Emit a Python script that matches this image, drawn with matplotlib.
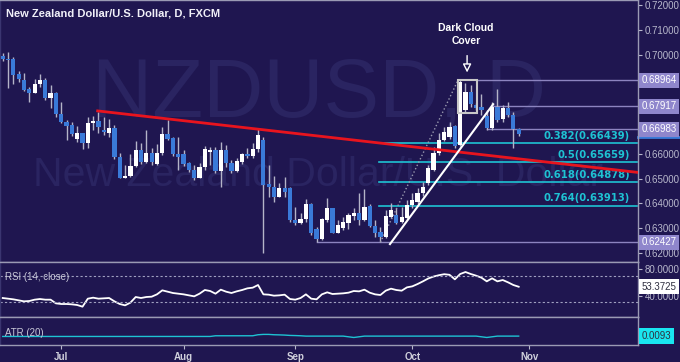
import numpy as np
import matplotlib.pyplot as plt
from matplotlib.patches import Rectangle
from matplotlib.transforms import blended_transform_factory

# Daily NZD/USD candles, mid-June to Oct 29 (weekdays only)
opens = [0.6996, 0.6982, 0.6981, 0.6921, 0.6898, 0.6860, 0.6844, 0.6880, 0.6898, 0.6826,
         0.6847, 0.6761, 0.6730, 0.6716, 0.6658, 0.6683, 0.6642, 0.6726, 0.6734, 0.6696,
         0.6685, 0.6706, 0.6589, 0.6504, 0.6511, 0.6552, 0.6615, 0.6568, 0.6602, 0.6559,
         0.6602, 0.6680, 0.6663, 0.6599, 0.6599, 0.6562, 0.6535, 0.6504, 0.6546, 0.6609,
         0.6615, 0.6531, 0.6615, 0.6564, 0.6532, 0.6568, 0.6599, 0.6593, 0.6620, 0.6656,
         0.6477, 0.6468, 0.6427, 0.6461, 0.6461, 0.6333, 0.6322, 0.6336, 0.6396, 0.6296,
         0.6255, 0.6333, 0.6380, 0.6282, 0.6300, 0.6322, 0.6349, 0.6363, 0.6333, 0.6391,
         0.6309, 0.6286, 0.6266, 0.6347, 0.6353, 0.6325, 0.6340, 0.6392, 0.6405, 0.6443,
         0.6481, 0.6535, 0.6602, 0.6656, 0.6669, 0.6712, 0.6635, 0.6777, 0.6850, 0.6798,
         0.6790, 0.6752, 0.6703, 0.6790, 0.6739, 0.6783, 0.6756, 0.6699]
highs = [0.7005, 0.7009, 0.6992, 0.6934, 0.6927, 0.6871, 0.6900, 0.6921, 0.6905, 0.6878,
         0.6851, 0.6808, 0.6736, 0.6730, 0.6712, 0.6685, 0.6747, 0.6753, 0.6770, 0.6750,
         0.6739, 0.6716, 0.6602, 0.6555, 0.6599, 0.6653, 0.6642, 0.6696, 0.6622, 0.6640,
         0.6707, 0.6736, 0.6669, 0.6669, 0.6615, 0.6568, 0.6555, 0.6562, 0.6632, 0.6626,
         0.6629, 0.6649, 0.6636, 0.6575, 0.6582, 0.6605, 0.6622, 0.6645, 0.6703, 0.6669,
         0.6555, 0.6511, 0.6484, 0.6505, 0.6465, 0.6387, 0.6363, 0.6417, 0.6400, 0.6306,
         0.6340, 0.6423, 0.6383, 0.6333, 0.6347, 0.6363, 0.6380, 0.6443, 0.6457, 0.6396,
         0.6333, 0.6306, 0.6374, 0.6400, 0.6380, 0.6387, 0.6413, 0.6440, 0.6461, 0.6485,
         0.6556, 0.6628, 0.6682, 0.6710, 0.6730, 0.6718, 0.6896, 0.6884, 0.6877, 0.6805,
         0.6840, 0.6778, 0.6810, 0.6860, 0.6795, 0.6810, 0.6770, 0.6705]
lows = [0.6974, 0.6867, 0.6880, 0.6891, 0.6855, 0.6810, 0.6844, 0.6871, 0.6817, 0.6783,
        0.6747, 0.6725, 0.6656, 0.6672, 0.6649, 0.6618, 0.6622, 0.6696, 0.6683, 0.6676,
        0.6669, 0.6581, 0.6501, 0.6502, 0.6508, 0.6548, 0.6559, 0.6564, 0.6555, 0.6555,
        0.6595, 0.6656, 0.6591, 0.6535, 0.6551, 0.6528, 0.6495, 0.6501, 0.6535, 0.6555,
        0.6524, 0.6468, 0.6548, 0.6524, 0.6528, 0.6559, 0.6582, 0.6582, 0.6609, 0.6199,
        0.6427, 0.6407, 0.6425, 0.6427, 0.6327, 0.6313, 0.6317, 0.6327, 0.6273, 0.6246,
        0.6253, 0.6327, 0.6279, 0.6279, 0.6293, 0.6296, 0.6333, 0.6313, 0.6329, 0.6304,
        0.6266, 0.6243, 0.6262, 0.6340, 0.6317, 0.6320, 0.6336, 0.6380, 0.6398, 0.6430,
        0.6475, 0.6530, 0.6595, 0.6650, 0.6660, 0.6625, 0.6630, 0.6770, 0.6790, 0.6778,
        0.6755, 0.6696, 0.6698, 0.6730, 0.6730, 0.6750, 0.6622, 0.6672]
closes = [0.6982, 0.6978, 0.6918, 0.6902, 0.6857, 0.6844, 0.6882, 0.6898, 0.6826, 0.6847,
          0.6761, 0.6728, 0.6714, 0.6680, 0.6683, 0.6642, 0.6726, 0.6734, 0.6710, 0.6687,
          0.6706, 0.6586, 0.6504, 0.6511, 0.6552, 0.6615, 0.6568, 0.6602, 0.6568, 0.6602,
          0.6680, 0.6660, 0.6598, 0.6586, 0.6559, 0.6535, 0.6504, 0.6548, 0.6618, 0.6615,
          0.6531, 0.6615, 0.6564, 0.6532, 0.6572, 0.6599, 0.6593, 0.6620, 0.6676, 0.6474,
          0.6468, 0.6427, 0.6461, 0.6447, 0.6333, 0.6322, 0.6336, 0.6396, 0.6279, 0.6255,
          0.6336, 0.6380, 0.6282, 0.6313, 0.6327, 0.6353, 0.6363, 0.6333, 0.6387, 0.6309,
          0.6282, 0.6266, 0.6349, 0.6374, 0.6322, 0.6345, 0.6394, 0.6412, 0.6440, 0.6467,
          0.6541, 0.6602, 0.6656, 0.6689, 0.6709, 0.6633, 0.6890, 0.6850, 0.6801, 0.6783,
          0.6775, 0.6703, 0.6790, 0.6736, 0.6783, 0.6756, 0.6699, 0.6678]

rsi = [36.5, 35.5, 34.5, 33, 31.5, 32, 34, 35, 34, 34,
       28.5, 27.5, 27.5, 27, 26, 23.5, 35.5, 37, 35.5, 36,
       36.5, 31.5, 27.5, 25.5, 29.5, 38, 36.5, 38, 38.5, 42,
       48, 46, 44, 43, 42, 40.5, 39, 43, 48.5, 47,
       43, 49, 46, 44, 46.5, 48.5, 51, 52, 56, 42,
       41.5, 40, 40.5, 41.5, 35, 34, 36.5, 42, 35.5, 34.5,
       42, 45, 42.5, 43, 43.5, 44.5, 47, 46.5, 49, 44.5,
       42, 41, 47.5, 50.5, 48.5, 47.5, 52.5, 54, 57.5, 61.5,
       65.8, 68.7, 70.7, 72.2, 71.3, 64.5, 72.5, 75.5, 72.5, 70,
       67, 61.5, 66, 61.5, 63.5, 60, 56, 53.4]

atr = ([0.00925] * 40 + [0.00935] * 8
       + [0.0095, 0.00955, 0.00955, 0.0095, 0.00948, 0.00945, 0.0094, 0.00938, 0.00935]
       + [0.0093] * 8 + [0.0092, 0.0091, 0.0092] + [0.0093] * 22
       + [0.0092, 0.0091, 0.0092] + [0.0093] * 5)

month_pos = [11, 34, 55, 77, 99]
month_names = ['Jul', 'Aug', 'Sep', 'Oct', 'Nov']
price_ticks = [0.62, 0.63, 0.64, 0.65, 0.66, 0.70, 0.71, 0.72]
levels = [0.68964, 0.67917, 0.66983, 0.62427]
level_start = [89.2, 92.2, 91, 59]
fib_levels = [0.66439, 0.65659, 0.64878, 0.63913]
fib_names = ['0.382(0.66439)', '0.5(0.65659)', '0.618(0.64878)', '0.764(0.63913)']

BG = '#1f1650'
BLUE = '#3a7ad8'
WICK = '#b4b4c8'
CYAN = '#1ec3d3'
GRID = '#8c84c0'
AXC = '#b8b8cc'

fig = plt.figure(figsize=(6.8, 3.62), dpi=100)
fig.patch.set_facecolor(BG)
ax = fig.add_axes([0, 0.2762, 0.938, 0.7238])
ax_rsi = fig.add_axes([0, 0.1243, 0.938, 0.1519], sharex=ax)
ax_atr = fig.add_axes([0, 0.0470, 0.938, 0.0773], sharex=ax)

for a in (ax, ax_rsi, ax_atr):
    a.set_facecolor(BG)
    for s in a.spines.values():
        s.set_color('#9a9ab4')
        s.set_linewidth(1)
    a.spines['left'].set_color('#3a3570')
    a.yaxis.tick_right()
    a.tick_params(axis='y', colors=AXC, labelsize=7, length=3, pad=2)
    a.tick_params(axis='x', colors=AXC, length=3)

# Watermark
ax.text(0.50, 0.64, 'NZDUSD, D', transform=ax.transAxes, ha='center', va='center',
        fontsize=60, color='#2a2461', family='Liberation Sans', zorder=0)
ax.text(0.498, 0.332, 'New Zealand Dollar/U.S. Dollar', transform=ax.transAxes,
        ha='center', va='center', fontsize=29.5, color='#2a2461',
        family='Liberation Sans', zorder=0)

# Candles
o, h, l, c = map(np.array, (opens, highs, lows, closes))
idx = np.arange(len(o))
up = c >= o
bottom = np.minimum(o, c)
height = np.maximum(np.abs(c - o), 0.00012)
ax.vlines(idx, l, h, color=WICK, lw=1, zorder=2)
ax.bar(idx[up], height[up], bottom=bottom[up], width=0.8, color='white', zorder=3)
ax.bar(idx[~up], height[~up], bottom=bottom[~up], width=0.8, color=BLUE, zorder=3)

# Horizontal levels
tr = blended_transform_factory(ax.transAxes, ax.transData)
for lv, x0 in zip(levels, level_start):
    ax.plot([x0, 119.4], [lv, lv], color=GRID, lw=1, zorder=1)
    ax.text(1.006, lv, f'{lv:.5f}', transform=tr, ha='left', va='center', fontsize=7,
            color='white', family='Liberation Sans', clip_on=False,
            bbox=dict(boxstyle='square,pad=0.25', fc='#8f86cc', ec='none'))
ax.plot([1.0, 1.065], [0.6668, 0.6668], transform=tr, color=BLUE, lw=2, clip_on=False)

# Fibonacci retracement
for lv, name in zip(fib_levels, fib_names):
    ax.plot([70.7, 119.2], [lv, lv], color=CYAN, lw=1.2, zorder=1)
    ax.annotate(name, (117.9, lv), xytext=(0, 1.5), textcoords='offset points',
                ha='right', va='bottom', fontsize=7.2, color=CYAN, weight='bold')
ax.plot([71, 85.6], [0.6243, 0.6897], color='#9a9ab0', lw=1, ls=':', zorder=2)

# Trend lines
ax.plot([17.85, 119.4], [0.6773, 0.6525], color='#e8141e', lw=2, zorder=4)
ax.plot([72.8, 92.2], [0.6236, 0.6800], color='white', lw=1.5, zorder=4)

# Dark cloud cover
ax.add_patch(Rectangle((85.6, 0.6763), 3.6, 0.6898 - 0.6763, fill=False,
                       ec='#c8c8c8', lw=1.5, zorder=4))
ax.text(87.1, 0.7081, 'Dark Cloud\nCover', ha='center', va='center', fontsize=7.5,
        weight='bold', color='white', family='Liberation Sans', linespacing=1.45)
ax.annotate('', xy=(87.3, 0.6928), xytext=(87.3, 0.6996),
            arrowprops=dict(arrowstyle='-|>,head_length=0.5,head_width=0.25',
                            color='white', lw=1, fc=BG, shrinkA=0, shrinkB=0))

ax.text(0.009, 0.95, 'New Zealand Dollar/U.S. Dollar, D, FXCM', transform=ax.transAxes,
        ha='left', va='center', fontsize=8, weight='bold', color='#f0f0f8',
        family='Liberation Sans')

ax.set_xlim(-0.51, 119.4)
ax.set_ylim(0.61637, 0.72202)
ax.set_yticks(price_ticks)
ax.set_yticklabels([f'{t:.5f}' for t in price_ticks], family='Liberation Sans')
ax.tick_params(axis='x', labelbottom=False, length=0)

# RSI panel
ax_rsi.plot(idx, rsi, color='white', lw=1.3)
for lv in (70, 30):
    ax_rsi.axhline(lv, color='#a0a0c0', lw=0.8, ls=(0, (2, 2)))
ax_rsi.set_ylim(8, 90.5)
ax_rsi.set_yticks([80, 40])
ax_rsi.set_yticklabels(['80.0000', '40.0000'], family='Liberation Sans')
ax_rsi.tick_params(axis='x', labelbottom=False, length=0)
ax_rsi.text(0.008, 0.733, 'RSI (14, close)', transform=ax_rsi.transAxes, ha='left',
            va='center', fontsize=7, color='#c8c8d8', family='Liberation Sans')
tr_rsi = blended_transform_factory(ax_rsi.transAxes, ax_rsi.transData)
ax_rsi.text(1.006, rsi[-1], '53.3725', transform=tr_rsi, ha='left', va='center',
            fontsize=7, color='#303040', family='Liberation Sans', clip_on=False,
            bbox=dict(boxstyle='square,pad=0.25', fc='white', ec='none'))

# ATR panel
ax_atr.plot(idx, atr, color=CYAN, lw=1)
ax_atr.set_ylim(0.0080, 0.0121)
ax_atr.set_yticks([])
ax_atr.text(0.008, 0.44, 'ATR (20)', transform=ax_atr.transAxes, ha='left', va='center',
            fontsize=7, color='#c8c8d8', family='Liberation Sans')
tr_atr = blended_transform_factory(ax_atr.transAxes, ax_atr.transData)
ax_atr.text(1.006, 0.0093, '0.0093', transform=tr_atr, ha='left', va='center',
            fontsize=7, color='#303040', family='Liberation Sans', clip_on=False,
            bbox=dict(boxstyle='square,pad=0.3', fc='#19e6f0', ec='none'))
ax_atr.set_xticks(month_pos)
ax_atr.set_xticklabels(month_names, fontsize=7, weight='bold', family='Liberation Sans',
                       color='#d0d0dc')
ax_atr.tick_params(axis='x', pad=2)

plt.savefig('out.png', dpi=100, facecolor=BG)
